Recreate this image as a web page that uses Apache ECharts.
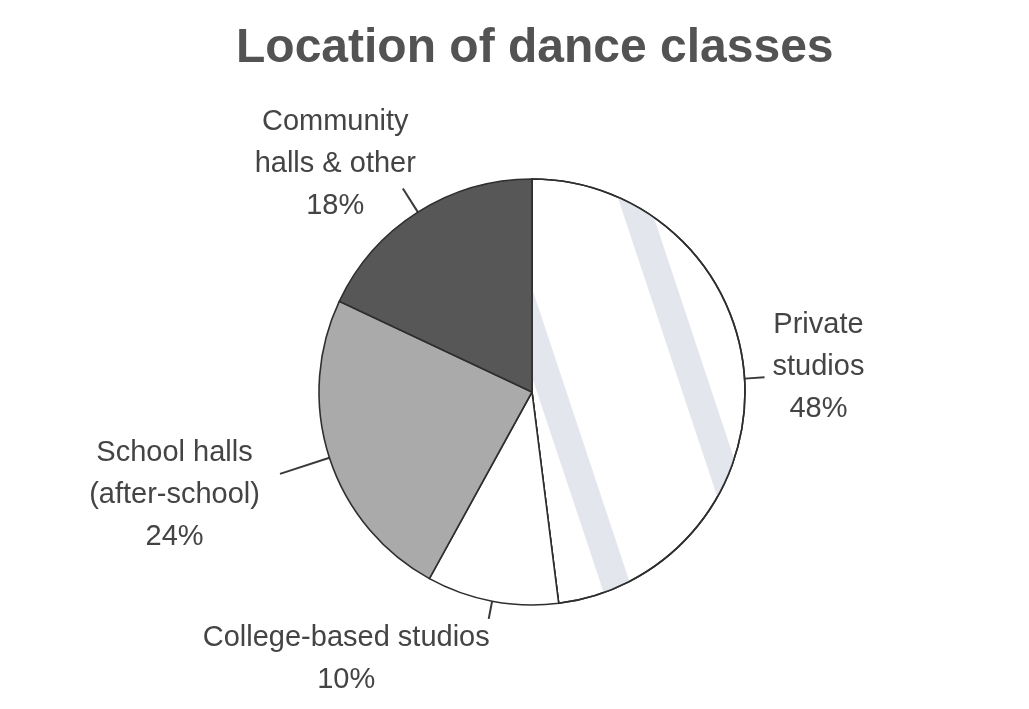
<!DOCTYPE html>
<html>
<head>
<meta charset="utf-8">
<script src="https://cdn.jsdelivr.net/npm/echarts@6/dist/echarts.min.js"></script>
<style>
html, body { margin: 0; padding: 0; background: #fff; }
#main { width: 1029px; height: 709px; }
</style>
</head>
<body>
<div id="main"></div>
<script>
// slices, clockwise from 12 o'clock
var categories = ['Private studios', 'College-based studios', 'School halls (after-school)', 'Community halls & other'];
var labelLines = [['Private', 'studios'], ['College-based studios'], ['School halls', '(after-school)'], ['Community', 'halls & other']];
var shares = [48, 10, 24, 18];
var sliceColors = ['#ffffff', '#ffffff', '#aaaaaa', '#575757'];

// leader lengths and nudges for the label blocks (layout only)
var leaderLength = [20, 18, 52, 28];
var labelNudge = [[2, -10], [7, 40], [-14, 21], [19, -25]];

var pieData = [];
for (var i = 0; i < categories.length; i++) {
    pieData.push({
        name: categories[i],
        value: shares[i],
        lines: labelLines[i],
        itemStyle: { color: sliceColors[i] },
        labelLine: { length: leaderLength[i] }
    });
}
// pale band on the private studios slice
pieData[0].itemStyle.decal = {
    symbol: 'rect',
    color: '#e4e6ed',
    dashArrayX: [1, 0],
    dashArrayY: [28, 110],
    rotation: 1.25,
    symbolSize: 1
};

var chart = echarts.init(document.getElementById('main'));
var option = {
    backgroundColor: '#ffffff',
    animation: false,
    title: {
        text: 'Location of dance classes',
        left: 231,
        top: 20,
        textStyle: {
            fontFamily: 'Liberation Sans, Arial, sans-serif',
            fontSize: 48,
            fontWeight: 'bold',
            color: '#535353'
        }
    },
    series: [{
        type: 'pie',
        center: [532, 392],
        radius: [0, 213],
        startAngle: 90,
        clockwise: true,
        data: pieData,
        itemStyle: {
            borderColor: '#2e2e2e',
            borderWidth: 1.6
        },
        emphasis: { disabled: true },
        label: {
            show: true,
            position: 'outside',
            distanceToLabelLine: 6,
            formatter: function (p) {
                var parts = p.data.lines.concat([p.value + '%']);
                return parts.map(function (s) { return '{t|' + s + '}'; }).join('\n');
            },
            rich: {
                t: {
                    fontFamily: 'Liberation Sans, Arial, sans-serif',
                    fontSize: 29,
                    lineHeight: 42,
                    color: '#444444',
                    align: 'center'
                }
            }
        },
        labelLine: {
            show: true,
            length2: 0,
            smooth: false,
            lineStyle: { color: '#3a3a3a', width: 2 }
        },
        labelLayout: function (p) {
            var n = labelNudge[p.dataIndex];
            return { dx: n[0], dy: n[1] };
        }
    }]
};
chart.setOption(option);
window.addEventListener('resize', function () {
    chart.resize();
});
</script>
</body>
</html>
